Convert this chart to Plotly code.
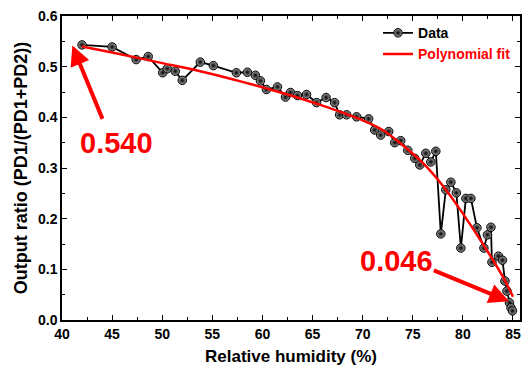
import plotly.graph_objects as go

# Measured data (Relative humidity %, output ratio)
rh = [42.0, 45.0, 47.4, 48.6, 50.05, 50.5, 51.3, 52.0, 53.8, 55.1,
      57.4, 58.5, 59.3, 59.8, 60.4, 61.5, 62.3, 62.8, 63.5, 64.4,
      65.4, 66.35, 67.2, 67.7, 68.4, 69.4, 70.6, 71.2, 71.8, 72.6,
      73.2, 73.8, 74.5, 75.2, 75.7, 76.3, 76.8, 77.3, 77.8, 78.3,
      78.8, 79.35, 79.8, 80.3, 80.8, 81.4, 82.1, 82.45, 82.8, 82.9,
      83.55, 83.95, 84.2, 84.4, 84.65, 84.8, 84.95]
ratio = [0.543, 0.539, 0.514, 0.520, 0.488, 0.496, 0.491, 0.473, 0.509, 0.502,
         0.488, 0.489, 0.483, 0.472, 0.455, 0.460, 0.440, 0.449, 0.443, 0.445,
         0.429, 0.439, 0.429, 0.405, 0.405, 0.401, 0.397, 0.375, 0.365, 0.372,
         0.350, 0.354, 0.335, 0.319, 0.306, 0.329, 0.312, 0.333, 0.170, 0.257,
         0.272, 0.251, 0.142, 0.240, 0.240, 0.182, 0.142, 0.168, 0.183, 0.114,
         0.126, 0.118, 0.077, 0.057, 0.034, 0.024, 0.018]

# Polynomial fit curve
fit_x = [42, 45, 50, 54, 58, 62, 66, 70, 72, 74, 76, 78, 80, 82, 84, 85]
fit_y = [0.540, 0.528, 0.507, 0.490, 0.470, 0.448, 0.423, 0.394, 0.375, 0.345,
         0.310, 0.265, 0.210, 0.150, 0.085, 0.046]

x_ticks = [40, 45, 50, 55, 60, 65, 70, 75, 80, 85]
y_ticks = [0.0, 0.1, 0.2, 0.3, 0.4, 0.5, 0.6]

FONT = "Liberation Sans, Arial, sans-serif"

fig = go.Figure()
fig.add_trace(go.Scatter(
    x=rh, y=ratio, mode="lines+markers", name="Data",
    line=dict(color="black", width=1.8),
    marker=dict(size=8.5, color="#a0a0a0", symbol="circle",
                gradient=dict(type="radial", color="#000000"),
                line=dict(color="black", width=1)),
))
fig.add_trace(go.Scatter(
    x=fit_x, y=fit_y, mode="lines",
    name="<span style='color:#ff0000'>Polynomial fit</span>",
    line=dict(color="#ff0000", width=2.5, shape="spline"),
))

axis_common = dict(
    showline=True, linecolor="black", linewidth=1.5, mirror="allticks",
    ticks="inside", ticklen=5, tickwidth=1.2, tickcolor="black",
    showgrid=False, zeroline=False, automargin=False,
    tickfont=dict(family=FONT, size=14, color="black", weight="bold"),
)

fig.update_xaxes(
    range=[40, 85.7], tickvals=x_ticks, ticktext=[str(v) for v in x_ticks],
    minor=dict(ticks="inside", ticklen=3, dtick=2.5, tick0=40, tickcolor="black"),
    title=dict(text="Relative humidity (%)", standoff=10,
               font=dict(family=FONT, size=17, color="black", weight="bold")),
    **axis_common,
)
fig.update_yaxes(
    range=[0, 0.6], tickvals=y_ticks, ticktext=[f"{v:.1f}" for v in y_ticks],
    minor=dict(ticks="inside", ticklen=3, dtick=0.05, tick0=0, tickcolor="black"),
    title=dict(text="Output ratio (PD1/(PD1+PD2))", standoff=6,
               font=dict(family=FONT, size=18, color="black", weight="bold")),
    **axis_common,
)

# Arrows
fig.add_annotation(x=41.03, y=0.542, ax=44.1, ay=0.394, xref="x", yref="y",
                   axref="x", ayref="y", text="", showarrow=True,
                   arrowhead=2, arrowsize=1.0, arrowwidth=4, arrowcolor="#ff0000")
fig.add_annotation(x=84.6, y=0.037, ax=76.95, ay=0.099, xref="x", yref="y",
                   axref="x", ayref="y", text="", showarrow=True,
                   arrowhead=2, arrowsize=1.0, arrowwidth=4, arrowcolor="#ff0000")
# Value labels
fig.add_annotation(x=45.4, y=0.349, xref="x", yref="y", text="0.540", showarrow=False,
                   font=dict(family=FONT, size=29, color="#ff0000", weight="bold"))
fig.add_annotation(x=73.4, y=0.117, xref="x", yref="y", text="0.046", showarrow=False,
                   font=dict(family=FONT, size=29, color="#ff0000", weight="bold"))

fig.update_layout(
    width=522, height=373,
    margin=dict(l=62, r=2, t=16, b=53),
    paper_bgcolor="white", plot_bgcolor="white",
    font=dict(family=FONT, color="black"),
    showlegend=True,
    legend=dict(x=0.69, y=0.996, xanchor="left", yanchor="top",
                bgcolor="rgba(0,0,0,0)", itemwidth=30, tracegroupgap=0,
                font=dict(family=FONT, size=14, color="black", weight="bold")),
)

fig.write_html("out.html", config={"displayModeBar": False},
               post_script="document.body.style.margin='0';document.body.style.padding='0';document.body.style.overflow='hidden';")
